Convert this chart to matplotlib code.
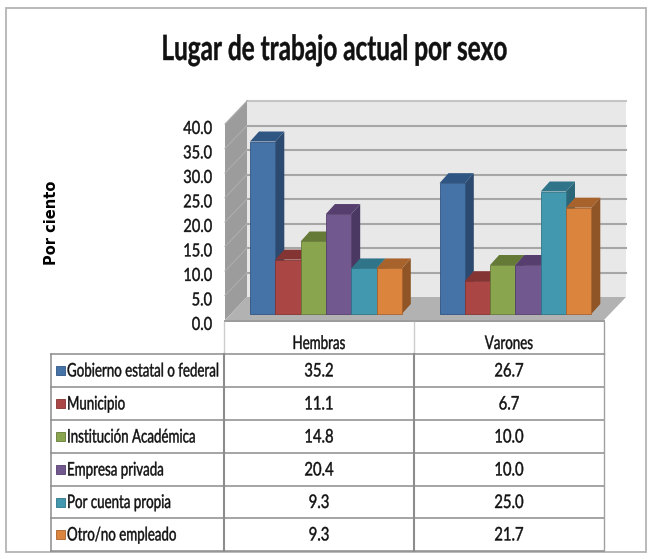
import numpy as np
import matplotlib
matplotlib.use("Agg")
import matplotlib.pyplot as plt
from matplotlib.patches import Polygon, Rectangle
from matplotlib.patheffects import AbstractPathEffect
from matplotlib.transforms import Affine2D

W, H = 654, 559

groups = ["Hembras", "Varones"]
series = ["Gobierno estatal o federal", "Municipio", "Institución Académica",
          "Empresa privada", "Por cuenta propia", "Otro/no empleado"]
hembras = [35.2, 11.1, 14.8, 20.4, 9.3, 9.3]
varones = [26.7, 6.7, 10.0, 10.0, 25.0, 21.7]
yticks = [0, 5, 10, 15, 20, 25, 30, 35, 40]
colors = ["#4572a7", "#aa4643", "#89a54e", "#71588f", "#4198af", "#db843d"]
tops = ["#2f5582", "#843432", "#667a38", "#563f6e", "#2f7488", "#a8622c"]
sides = ["#2c4a70", "#77302d", "#5f7434", "#4a3862", "#2b6779", "#8f5526"]

PX_U = 4.9      # pixels per percent
PX_G = 189.5    # pixels per group
FRONT_X, FRONT_Y = 225, 320
INK = "#111111"


class Squeeze(AbstractPathEffect):
    # the reference text is a horizontally squashed Calibri
    def __init__(self, cx, sx):
        super().__init__()
        self.cx = cx
        self.sx = sx

    def draw_path(self, renderer, gc, tpath, affine, rgbFace=None):
        t = Affine2D().translate(-self.cx, 0).scale(self.sx, 1).translate(self.cx, 0)
        gc0 = renderer.new_gc()
        gc0.copy_properties(gc)
        gc0.set_linewidth(0.3)
        gc0.set_foreground(INK)
        renderer.draw_path(gc0, tpath, affine + t, rgbFace)
        gc0.restore()


def label(axis, x, y, s, sx=0.8, size=12, ha="center", weight="normal"):
    cx = axis.transData.transform((x, y))[0]
    t = axis.text(x, y, s, ha=ha, va="baseline", fontsize=size, fontweight=weight,
                  family="Lato", color=INK)
    t.set_path_effects([Squeeze(cx, sx)])
    return t


fig = plt.figure(figsize=(W / 100, H / 100), dpi=100, facecolor="white")

# pixel layer for frame, title and table
bg = fig.add_axes([0, 0, 1, 1])
bg.set_xlim(0, W)
bg.set_ylim(H, 0)
bg.axis("off")
bg.add_patch(Rectangle((6, 8), 640, 544, fc="white", ec="#b4b4b4", lw=1.3))
label(bg, 334.5, 60, "Lugar de trabajo actual por sexo", sx=0.70, size=25, weight="bold")
bg.text(51, 223, "Por ciento", rotation=90, ha="center", va="center",
        fontsize=10.5, fontweight="bold", family="DejaVu Sans", color="black")

# chart layer: x in groups, y in percent
ax = fig.add_axes([0, 0, 1, 1])
ax.patch.set_alpha(0)
ax.axis("off")
ax.set_xlim(-FRONT_X / PX_G, (W - FRONT_X) / PX_G)
ax.set_ylim((FRONT_Y - H) / PX_U, FRONT_Y / PX_U)

dx = 22 / PX_G
dy = 23 / PX_U
top = yticks[-1]
wall_r = 401 / PX_G
ax.add_patch(Polygon([(dx, dy), (wall_r, dy), (wall_r, top + dy), (dx, top + dy)],
                     fc="#e8e8e8", ec="none"))
ax.add_patch(Polygon([(0, 0), (dx, dy), (dx, top + dy), (0, top)], fc="#9c9c9c", ec="none"))
ax.add_patch(Polygon([(0, 0), (dx, dy), (wall_r, dy), (2, 0)], fc="#b2b2b2", ec="none"))
ax.plot([0, 2], [-0.3, -0.3], color="#9a9a9a", lw=1.4)
for v in yticks:
    if v > 0:
        c = "#c4c4c4" if v == top else "#a6a6a6"
        ax.plot([dx, wall_r], [v + dy, v + dy], color=c, lw=1.5)
        ax.plot([0, dx], [v, v + dy], color="#adadad", lw=0.8)
    label(ax, -13 / PX_G, v - 0.8 - 6 / PX_U, f"{v:.1f}", sx=0.81, size=13, ha="right")

bar_w = 25.3 / PX_G
start = 25 / PX_G
base = 6 / PX_U
ddx = 9 / PX_G
ddy = 10 / PX_U
for g, vals in enumerate([hembras, varones]):
    for i, v in enumerate(vals):
        x0 = g + start + i * bar_w
        x1 = x0 + bar_w
        y1 = base + v
        ax.add_patch(Polygon([(x1, base), (x1 + ddx, base + ddy), (x1 + ddx, y1 + ddy), (x1, y1)],
                             fc=sides[i], ec="none", zorder=3 + i * 0.1))
        ax.add_patch(Polygon([(x0, y1), (x0 + ddx, y1 + ddy), (x1 + ddx, y1 + ddy), (x1, y1)],
                             fc=tops[i], ec="none", zorder=3 + i * 0.1))
        ax.bar(x0, v, bar_w, bottom=base, align="edge", color=colors[i],
               edgecolor=tops[i], lw=0.6, zorder=3 + i * 0.1)

# table
tb = fig.add_axes([0, 0, 1, 1])
tb.patch.set_alpha(0)
tb.axis("off")
tb.set_xlim(0, W)
tb.set_ylim(H, 0)
col_x = [224, 414, 604]
row_y = [354, 387, 420, 453, 486, 518, 551]
light = "#cccccc"
dark = "#8c8c8c"
for x in col_x[:2]:
    tb.plot([x, x], [322, 354], color=light, lw=1)
tb.plot([604, 604], [322, 354], color="#a0a0a0", lw=1)
for y in row_y:
    tb.plot([51, 604], [y, y], color=dark, lw=1.1)
tb.plot([51, 51], [354, 551], color=dark, lw=1.1)
tb.plot([224, 224], [354, 551], color=dark, lw=1.5)
tb.plot([414, 414], [354, 551], color=dark, lw=1.5)
tb.plot([604, 604], [354, 551], color="#a0a0a0", lw=1)
for j, name in enumerate(groups):
    label(tb, (col_x[j] + col_x[j + 1]) / 2, 349, name, sx=0.71, size=13.5)
for i, name in enumerate(series):
    ym = (row_y[i] + row_y[i + 1]) / 2
    tb.add_patch(Rectangle((56, ym - 4.5), 8.5, 9, fc=colors[i], ec=tops[i], lw=0.6))
    label(tb, 67, ym + 6, name, sx=0.71, size=13.5, ha="left")
    for j, vals in enumerate([hembras, varones]):
        label(tb, (col_x[j] + col_x[j + 1]) / 2, ym + 6, f"{vals[i]:.1f}", sx=0.79, size=13.5)

fig.savefig("out.png", dpi=100)
